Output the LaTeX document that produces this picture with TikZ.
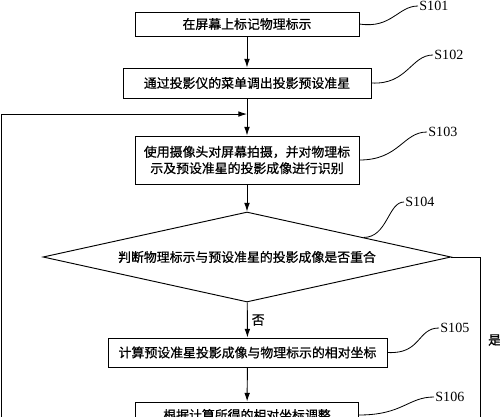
\documentclass[tikz,border=0pt]{standalone}
\usepackage{fontspec}
\setmainfont{Liberation Serif}
\newfontfamily\cjk[FakeBold=0.8]{Noto Sans CJK SC}
\usetikzlibrary{
    arrows.meta,
    shapes.geometric,
    calc
}

\begin{document}
\begin{tikzpicture}[x=0.03cm, y=-0.03cm,
    box/.style={draw, line width=0.8pt, align=center, inner sep=0pt,
        font=\cjk\fontsize{11}{14}\selectfont},
    decision/.style={draw, diamond, aspect=4.5, line width=0.8pt, inner sep=0pt,
        minimum width=12.24cm, minimum height=2.7cm,
        font=\cjk\fontsize{11}{14}\selectfont},
    arr/.style={line width=0.8pt, -{Latex[length=2.6mm, width=1.7mm]}},
    lead/.style={line width=0.7pt},
    steplabel/.style={anchor=west, inner sep=1pt, font=\fontsize{12}{14}\selectfont}]

\useasboundingbox (0,0) rectangle (500,416);
\clip (0,0) rectangle (500,416);

% === main chain ===
\node[box, minimum width=6.72cm, minimum height=0.72cm] (b1) at (247,24) {在屏幕上标记物理标示};
\node[box, minimum width=7.44cm, minimum height=0.9cm] (b2) at (247,83) {通过投影仪的菜单调出投影预设准星};
\node[box, minimum width=6.72cm, minimum height=1.44cm] (b3) at (247,160)
    {使用摄像头对屏幕拍摄，并对物理标\\示及预设准星的投影成像进行识别};
\node[decision] (d) at (247,257) {判断物理标示与预设准星的投影成像是否重合};
\node[box, minimum width=8.37cm, minimum height=0.87cm] (b5) at (247.5,352.5)
    {计算预设准星投影成像与物理标示的相对坐标};
\node[box, minimum width=6.69cm, minimum height=0.78cm] (b6) at (247,415)
    {根据计算所得的相对坐标调整};

\draw[arr] (b1) -- (b2);
\draw[arr] (b2) -- (b3);
\draw[arr] (b3) -- (d);
\draw[arr] (d) -- node[right, font=\cjk\fontsize{11}{14}\selectfont] (no) {否} (b5);
\draw[arr] (b5) -- (b6);

% loop back (left) and yes branch (right)
\coordinate (j) at ($(b2.south)!0.42!(b3.north)$);
\coordinate (loopbot) at (1,440);
\coordinate (yesbot) at (480,440);
\draw[arr] (loopbot) |- (j);
\draw[line width=0.8pt] (d.east) -| (yesbot);
\node[anchor=west, inner sep=0pt, font=\cjk\fontsize{11}{14}\selectfont] (yes) at (488,340) {是};

% step labels
\node[steplabel] (s101) at (418,6) {S101};
\node[steplabel] (s102) at (433,55) {S102};
\node[steplabel] (s103) at (427,132) {S103};
\node[steplabel] (s104) at (404,202) {S104};
\node[steplabel] (s105) at (439,328) {S105};
\node[steplabel] (s106) at (434,397) {S106};

\coordinate (dedge) at ($(d.north)!0.57!(d.east)$);
\draw[lead] (b1.east) .. controls +(32,5) and +(-20,0) .. (s101.west);
\draw[lead] (b2.east) .. controls +(36,2) and +(-22,0) .. (s102.west);
\draw[lead] (b3.east) .. controls +(40,0) and +(-24,0) .. (s103.west);
\draw[lead] (dedge) .. controls +(24,0) and +(-16,0) .. (s104.west);
\draw[lead] (b5.east) .. controls +(34,2) and +(-22,0) .. (s105.west);
\draw[lead] (b6.east) .. controls +(44,0) and +(-26,0) .. (s106.west);

\end{tikzpicture}
\end{document}
